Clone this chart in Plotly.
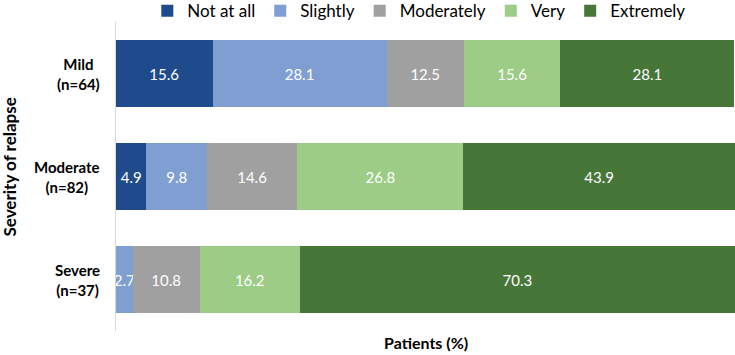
import plotly.graph_objects as go

categories = ["Mild", "Moderate", "Severe"]
category_labels = ["Mild<br>(n=64)", "Moderate<br>(n=82)", "Severe<br>(n=37)"]
series_names = ["Not at all", "Slightly", "Moderately", "Very", "Extremely"]
not_at_all = [15.6, 4.9, None]
slightly = [28.1, 9.8, 2.7]
moderately = [12.5, 14.6, 10.8]
very = [15.6, 26.8, 16.2]
extremely = [28.1, 43.9, 70.3]
series_values = [not_at_all, slightly, moderately, very, extremely]
colors = ["#1F4B8C", "#7F9FD3", "#A0A0A0", "#9CCC86", "#477639"]

FONT = "Lato, 'Open Sans', sans-serif"

fig = go.Figure()
for name, vals, col in zip(series_names, series_values, colors):
    fig.add_trace(go.Bar(
        y=categories, x=vals, name=name, orientation="h",
        marker=dict(color=col, line=dict(width=0)),
        text=[("%.1f" % v) if v is not None else "" for v in vals],
        textposition="inside", insidetextanchor="middle",
        constraintext="none", textangle=0,
        textfont=dict(family=FONT, size=15, color="white"),
        hoverinfo="x+name",
    ))

annotations = []
for cat, lab in zip(categories, category_labels):
    annotations.append(dict(
        x=0, xref="paper", y=cat, yref="y", xshift=-14,
        xanchor="right", yanchor="middle", align="center",
        text="<b>" + lab + "</b>", showarrow=False,
        font=dict(family=FONT, size=15, color="black"),
    ))
annotations.append(dict(
    x=0, xref="paper", y=0.5, yref="paper", xshift=-107, yshift=9,
    xanchor="center", yanchor="middle", textangle=-90,
    text="<b>Severity of relapse</b>", showarrow=False,
    font=dict(family=FONT, size=17, color="black"),
))
annotations.append(dict(
    x=0.5, xref="paper", y=0, yref="paper", yshift=-11,
    xanchor="center", yanchor="middle",
    text="<b>Patients (%)</b>", showarrow=False,
    font=dict(family=FONT, size=16, color="black"),
))

fig.update_layout(
    barmode="stack",
    bargap=0.35,
    width=735, height=355,
    margin=dict(l=116, r=0, t=22, b=24, autoexpand=False),
    paper_bgcolor="white", plot_bgcolor="white",
    font=dict(family=FONT, color="black"),
    legend=dict(
        orientation="h", x=0.49, xanchor="center", y=1.035, yanchor="middle",
        font=dict(family=FONT, size=17, color="black"),
        traceorder="normal", bgcolor="rgba(0,0,0,0)",
    ),
    xaxis=dict(range=[0, 100], showticklabels=False, showgrid=False,
               zeroline=False, showline=False, ticks=""),
    yaxis=dict(categoryorder="array", categoryarray=categories,
               autorange="reversed", showticklabels=False, showgrid=False,
               zeroline=False, showline=True, linecolor="#D9D9D9",
               linewidth=1, ticks=""),
    annotations=annotations,
)

fig.write_html(
    "out.html",
    config={"displayModeBar": False},
    post_script="document.body.style.margin='0';document.body.style.overflow='hidden';",
)
